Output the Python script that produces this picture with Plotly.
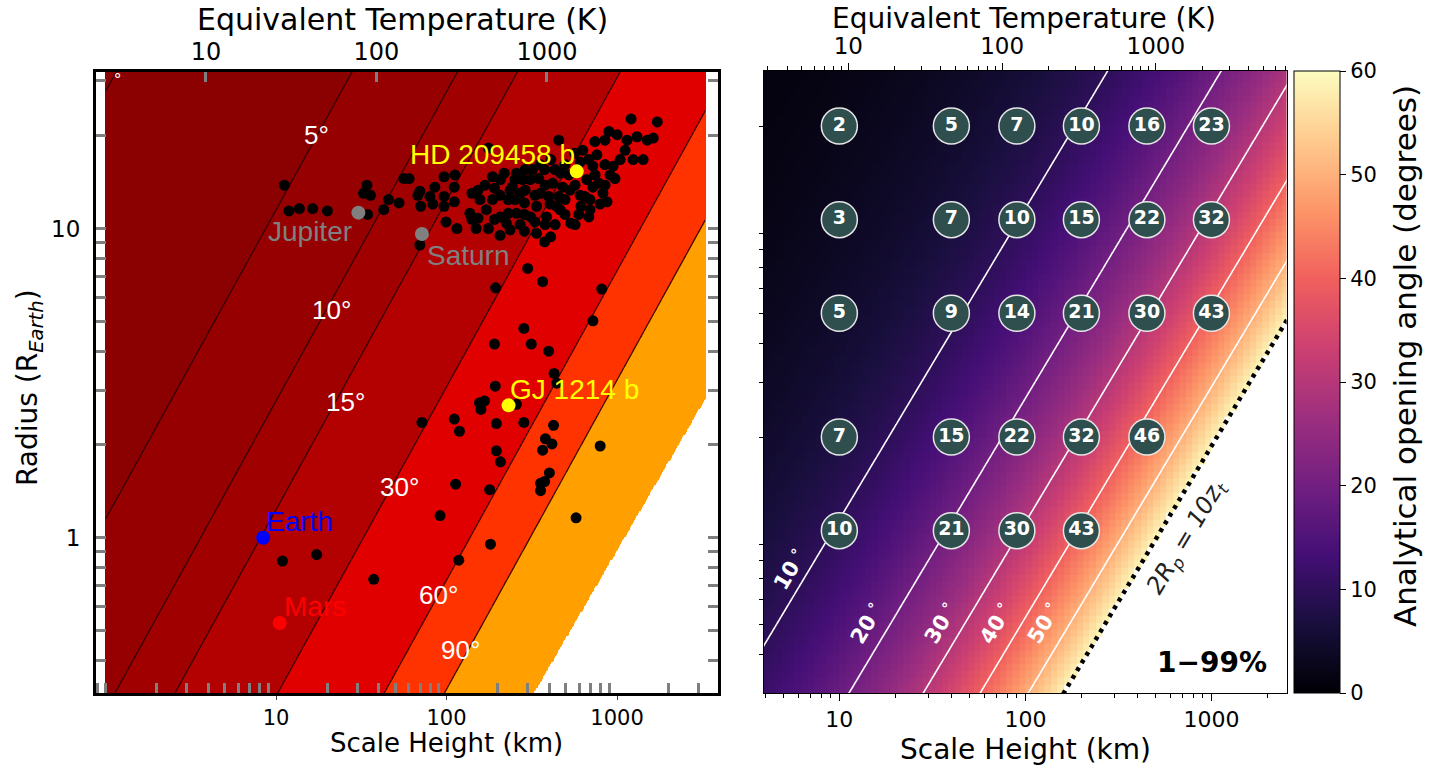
import numpy as np
import plotly.graph_objects as go

FIG_W, FIG_H = 1431, 771
AXF = "DejaVu Sans"
ARF = "Liberation Sans"

# ---------------- LEFT PANEL DATA ----------------
# exoplanets: scale height (km) and radius (R_Earth)
giant_H1 = [11.2, 11.9, 13.7, 16.4, 20.0, 34.1, 32.6, 35.8, 34.4, 42.8, 45.7, 52.6, 56.2, 60.3, 69.7,
            67.9, 70.5, 79.9, 85.3, 96.7, 112, 96.7, 111, 83.0, 96.7, 111, 99.3, 115, 69.7]
giant_R1 = [13.8, 11.4, 11.6, 11.6, 11.4, 13.8, 13.0, 12.8, 11.1, 11.5, 12.4, 12.1, 14.5, 14.5, 13.2,
            12.8, 11.8, 12.7, 13.6, 14.7, 14.9, 12.7, 13.6, 12.0, 11.8, 12.2, 10.5, 10.0, 8.84]
giant_H2 = [141, 153, 137, 153, 149, 176, 171, 186, 186, 176, 191, 207, 218, 230, 230, 224, 207, 191,
            243, 257, 279, 271, 286, 257, 286, 337, 376, 408, 311, 337, 356, 347, 319, 376, 408, 455,
            419, 397, 455, 480, 467, 521, 565]
giant_R2 = [13.0, 13.3, 11.2, 10.8, 10.0, 10.0, 11.5, 12.4, 14.7, 18.2, 13.5, 14.4, 15.1, 12.4, 11.2,
            10.4, 10.9, 10.7, 13.6, 15.1, 14.4, 13.0, 12.1, 11.2, 9.8, 9.65, 9.06, 9.4, 10.9, 11.8,
            13.0, 14.5, 15.5, 15.5, 16.7, 19.3, 14.0, 12.7, 12.7, 13.6, 15.1, 14.9, 17.5]
giant_H3 = [535, 596, 614, 647, 721, 665, 721, 761, 741, 849, 896, 1000, 1145, 1309, 1502, 1630, 1208,
            1721, 1114, 1242, 1422, 849, 947, 972, 873, 783, 826, 683, 630, 442, 286, 141, 386, 683]
giant_R3 = [10.4, 11.1, 11.8, 12.7, 13.6, 14.4, 15.9, 17.3, 19.1, 19.3, 20.6, 20.1, 19.3, 19.8, 19.3,
            19.6, 22.6, 22.1, 17.9, 16.7, 16.7, 16.1, 15.9, 14.5, 12.2, 14.0, 13.0, 16.7, 17.9, 11.8,
            11.1, 10.7, 10.9, 10.9]
giant_H4 = [157, 168, 206, 236, 252, 289, 309, 330, 378, 405, 463, 495, 530, 567, 607, 694, 495, 567,
            433, 378, 330, 270, 236, 206, 252, 289, 353, 433, 495, 607, 743, 850, 910, 1042, 795, 694]
giant_R4 = [12.4, 13.8, 12.8, 13.3, 12.4, 13.3, 14.4, 12.8, 13.8, 12.0, 11.5, 12.4, 13.3, 13.8, 12.8,
            12.4, 11.1, 10.3, 10.3, 10.3, 10.5, 10.3, 9.9, 9.5, 14.4, 15.5, 16.1, 15.5, 16.1, 16.4,
            14.9, 13.8, 14.9, 16.7, 12.0, 11.5]
small_H5 = [299, 366, 194, 813, 722, 284, 191, 314, 397, 427, 443, 193, 156, 167, 159, 257, 71.7, 111,
            119, 196, 284, 424, 380, 415, 366, 796, 196, 207, 401, 376, 356, 356, 113, 179]
small_R5 = [7.43, 6.73, 6.43, 6.37, 5.03, 4.75, 4.23, 4.23, 4.01, 3.40, 3.16, 3.09, 2.73, 2.77, 2.60,
            2.70, 2.36, 2.42, 2.21, 2.34, 2.36, 2.31, 2.09, 2.01, 1.92, 1.98, 1.91, 1.76, 1.62, 1.52,
            1.50, 1.42, 1.49, 1.43]
small_H6 = [91.6, 575, 10.9, 17.3, 181, 118, 37.4]
small_R6 = [1.18, 1.16, 0.841, 0.882, 0.953, 0.846, 0.734]

named_name = ["HD 209458 b", "Jupiter", "Saturn", "GJ 1214 b", "Earth", "Mars"]
named_H = [580, 30.4, 71.7, 231, 8.4, 10.5]
named_R = [15.3, 11.25, 9.6, 2.68, 1.0, 0.53]
named_color = ["#ffff00", "#808080", "#808080", "#ffff00", "#0000ff", "#ff0000"]
named_label_H = [186, 15.9, 134, 560, 13.8, 17.0]
named_label_R = [17.3, 9.8, 8.15, 3.02, 1.13, 0.60]

# opening-angle contours of the left panel: H/R ratio (km per R_Earth) along each contour
left_angle_levels = [1, 5, 10, 15, 30, 60, 90]
left_level_ratio = [0.036, 0.87, 3.61, 8.11, 32.5, 137, 309]
# edge of the filled region (white beyond): H**exponent / R = const
left_limit_exponent = 0.947
left_limit_const = 762
left_fill_H = [1.0, 3300]
left_band_colors = ["#8b0000", "#8b0000", "#960000", "#a10000", "#b30000", "#e00000", "#ff3300", "#ffa000"]
left_label_text = ["5°", "10°", "15°", "30°", "60°", "90°", "°"]
left_label_H = [17.2, 21.1, 25.5, 53.2, 89.1, 120, 1.18]
left_label_R = [20.1, 5.45, 2.75, 1.46, 0.652, 0.433, 30.2]

left_x_ticks = [10, 100, 1000]
left_x_minor = [0.9, 1, 2, 3, 4, 5, 6, 7, 8, 9, 20, 30, 40, 50, 60, 70, 80, 90,
                200, 300, 400, 500, 600, 700, 800, 900, 2000, 3000]
left_y_ticks = [1, 10]
left_y_minor = [0.4, 0.5, 0.6, 0.7, 0.8, 0.9, 2, 3, 4, 5, 6, 7, 8, 9, 20, 30]
left_T_ticks = [10, 100, 1000]

# ---------------- RIGHT PANEL DATA ----------------
right_anchor_ratio = [0.13, 9.2, 37.5, 94, 190, 345, 535]   # H/R along read contours
right_anchor_angle = [1.2, 10, 20, 30, 40, 50, 59]
right_levels = [10, 20, 30, 40, 50]
right_limit_ratio = 535   # 2Rp = 10 z_t line

bubble_H = [10, 40, 90, 200, 450, 1000]
bubble_R = [20, 10, 5, 2, 1]
bubble_angle = [[2, 5, 7, 10, 16, 23],
                [3, 7, 10, 15, 22, 32],
                [5, 9, 14, 21, 30, 43],
                [7, 15, 22, 32, 46, None],
                [10, 21, 30, 43, None, None]]

right_label_text = ["10<sup> ∘</sup>", "20<sup> ∘</sup>", "30<sup> ∘</sup>", "40<sup> ∘</sup>", "50<sup> ∘</sup>"]
right_label_H = [5.37, 13.9, 34.7, 68.7, 124]
right_label_R = [0.758, 0.508, 0.508, 0.508, 0.508]

right_x_ticks = [10, 100, 1000]
right_x_minor = [4, 5, 6, 7, 8, 9, 20, 30, 40, 50, 60, 70, 80, 90, 200, 300, 400, 500, 600, 700, 800, 900, 2000]
right_y_ticks = [0.4, 0.5, 0.6, 0.7, 0.8, 0.9, 2, 3, 4, 5, 6, 7, 8, 9, 20]
right_T_ticks = [10, 100, 1000]
right_T_minor = [3, 4, 5, 6, 7, 8, 9, 20, 30, 40, 50, 60, 70, 80, 90, 200, 300, 400, 500, 600, 700, 800, 900,
                 2000, 3000, 4000, 5000, 6000, 7000]
cbar_ticks = [0, 10, 20, 30, 40, 50, 60]

# ---------------- helpers ----------------
def fx(p):
    return p / FIG_W


def fy(p):
    return 1 - p / FIG_H


L_X0, L_X1, L_Y0, L_Y1 = 96, 718, 72, 693
R_X0, R_X1, R_Y0, R_Y1 = 764, 1286.6, 71, 693

fig = go.Figure()

# ---- left: filled bands ----
lh = np.logspace(np.log10(left_fill_H[0]), np.log10(left_fill_H[1]), 560)
lr = np.logspace(-0.52, 1.52, 560)
LH, LR = np.meshgrid(lh, lr)
lratio = LH / LR
band = np.digitize(lratio, left_level_ratio).astype(float)
band[LH ** left_limit_exponent / LR > left_limit_const] = np.nan
nb = len(left_band_colors)
cs = []
for i, c in enumerate(left_band_colors):
    cs.append([i / nb, c])
    cs.append([(i + 1) / nb, c])
fig.add_trace(go.Heatmap(x=lh, y=lr, z=band, colorscale=cs, zmin=-0.5, zmax=nb - 0.5,
                         showscale=False, hoverinfo="skip", xaxis="x", yaxis="y"))

gh = np.logspace(np.log10(left_fill_H[0]), np.log10(left_fill_H[1]), 120)
gr = np.logspace(-0.52, 1.52, 120)
GH, GR = np.meshgrid(gh, gr)
zlog = np.log10(GH / GR)
for lv in left_level_ratio:
    v = float(np.log10(lv))
    fig.add_trace(go.Contour(x=gh, y=gr, z=zlog, autocontour=False,
                             contours=dict(start=v, end=v, size=1, coloring="none"),
                             line=dict(color="rgba(45,0,0,0.9)", width=1.3),
                             showscale=False, hoverinfo="skip", xaxis="x", yaxis="y"))

exo_H = giant_H1 + giant_H2 + giant_H3 + giant_H4 + small_H5 + small_H6
exo_R = giant_R1 + giant_R2 + giant_R3 + giant_R4 + small_R5 + small_R6
fig.add_trace(go.Scatter(x=exo_H, y=exo_R, mode="markers", marker=dict(color="black", size=11),
                         hoverinfo="skip", xaxis="x", yaxis="y"))
fig.add_trace(go.Scatter(x=named_H, y=named_R, mode="markers", marker=dict(color=named_color, size=14),
                         hoverinfo="skip", xaxis="x", yaxis="y"))
# empty trace so that the top temperature axis of the left panel is drawn
fig.add_trace(go.Scatter(x=left_T_ticks, y=[None] * len(left_T_ticks), mode="markers",
                         hoverinfo="skip", xaxis="x2", yaxis="y"))

# ---- right: heatmap ----
rh = np.logspace(0.57, 3.43, 84)
rr = np.logspace(-0.55, 1.50, 94)
RH, RRg = np.meshgrid(rh, rr)
rratio = RH / RRg
theta = 10 ** np.interp(np.log10(rratio), np.log10(right_anchor_ratio), np.log10(right_anchor_angle))
theta[rratio > right_limit_ratio] = np.nan
fig.add_trace(go.Heatmap(
    x=rh, y=rr, z=theta, colorscale="Magma", zmin=0, zmax=60, hoverinfo="skip",
    xaxis="x3", yaxis="y4",
    colorbar=dict(x=fx(1294), xanchor="left", xpad=0, y=fy(R_Y1), yanchor="bottom", ypad=0,
                  len=(R_Y1 - R_Y0) / FIG_H, lenmode="fraction", thickness=46, thicknessmode="pixels",
                  outlinewidth=1, outlinecolor="black", tickmode="array", tickvals=cbar_ticks,
                  ticks="outside", ticklen=6, tickcolor="black",
                  tickfont=dict(family=AXF, size=21, color="black"))))

ch = np.logspace(0.57, 3.43, 300)
cr = np.logspace(-0.55, 1.50, 300)
CH, CR = np.meshgrid(ch, cr)
ctheta = 10 ** np.interp(np.log10(CH / CR), np.log10(right_anchor_ratio), np.log10(right_anchor_angle))
fig.add_trace(go.Contour(x=ch, y=cr, z=ctheta, autocontour=False,
                         contours=dict(start=right_levels[0], end=right_levels[-1], size=10, coloring="none"),
                         line=dict(color="white", width=1.6), showscale=False, hoverinfo="skip",
                         xaxis="x3", yaxis="y4"))

# dotted line 2Rp = 10 z_t
dl_R = np.logspace(-0.6, 1.6, 60)
fig.add_trace(go.Scatter(x=dl_R * right_limit_ratio, y=dl_R, mode="lines",
                         line=dict(color="black", width=4.5, dash="4px,5px"),
                         hoverinfo="skip", xaxis="x3", yaxis="y4"))

# bubbles
bx, by, bt = [], [], []
for i, rv in enumerate(bubble_R):
    for j, hv in enumerate(bubble_H):
        a = bubble_angle[i][j]
        if a is not None:
            bx.append(hv)
            by.append(rv)
            bt.append(str(a))
fig.add_trace(go.Scatter(x=bx, y=by, mode="markers+text", text=bt, textposition="middle center",
                         marker=dict(size=36, color="#2f4f4f", line=dict(color="#e6e6e6", width=1.5)),
                         textfont=dict(family=AXF, size=19, color="white", weight="bold"),
                         hoverinfo="skip", xaxis="x3", yaxis="y4"))
# empty trace so that the top temperature axis of the right panel is drawn
fig.add_trace(go.Scatter(x=right_T_ticks, y=[None] * len(right_T_ticks), mode="markers",
                         hoverinfo="skip", xaxis="x4", yaxis="y4"))

# ---------------- annotations ----------------
ann = []
def add_text(text, x, y, size, color="black", family=AXF, xref="paper", yref="paper", angle=0):
    ann.append(dict(text=text, x=x, y=y, xref=xref, yref=yref, showarrow=False,
                    font=dict(family=family, size=size, color=color), textangle=angle,
                    xanchor="center", yanchor="middle"))

add_text("Equivalent Temperature (K)", fx(402), fy(19), 30)
add_text("Equivalent Temperature (K)", fx(1024), fy(18), 28)
add_text("Scale Height (km)", fx(446), fy(743), 26)
add_text("Scale Height (km)", fx(1025), fy(749), 28)
add_text("Radius (R<sub><i>Earth</i></sub>)", fx(29), fy(388), 28, angle=-90)
add_text("Analytical opening angle (degrees)", fx(1405), fy(356), 31, angle=-90)

for t, h, r in zip(left_label_text, left_label_H, left_label_R):
    add_text(t, float(np.log10(h)), float(np.log10(r)), 26 if t != "°" else 18, color="white", family=ARF,
             xref="x", yref="y")
for t, h, r, c in zip(named_name, named_label_H, named_label_R, named_color):
    add_text(t, float(np.log10(h)), float(np.log10(r)), 28, color=c, family=ARF, xref="x", yref="y")

for t, h, r in zip(right_label_text, right_label_H, right_label_R):
    ann.append(dict(text="<b>" + t + "</b>", x=float(np.log10(h)), y=float(np.log10(r)), xref="x3", yref="y4",
                    showarrow=False, textangle=-59, font=dict(family=AXF, size=21, color="white"),
                    xanchor="center", yanchor="middle"))
ann.append(dict(text="<i>2R<sub>p</sub> = 10z<sub>t</sub></i>", x=float(np.log10(740)), y=float(np.log10(0.95)),
                xref="x3", yref="y4", showarrow=False, textangle=-59,
                font=dict(family=AXF, size=24, color="#222222"), xanchor="center", yanchor="middle"))
ann.append(dict(text="<b>1−99%</b>", x=float(np.log10(1007)), y=float(np.log10(0.378)), xref="x3", yref="y4",
                showarrow=False, font=dict(family=AXF, size=28, color="black"),
                xanchor="center", yanchor="middle"))

grey = "#7f7f7f"
fig.update_layout(
    width=FIG_W, height=FIG_H, autosize=False,
    margin=dict(l=0, r=0, t=0, b=0), paper_bgcolor="white", plot_bgcolor="white",
    showlegend=False, annotations=ann,
    xaxis=dict(domain=[fx(L_X0), fx(L_X1)], anchor="y", type="log", range=[-0.056, 3.592],
               showline=True, linewidth=3, linecolor="black", mirror=True, showgrid=False, zeroline=False,
               tickmode="array", tickvals=left_x_ticks, ticktext=[str(v) for v in left_x_ticks],
               ticks="outside", ticklen=4, tickwidth=1, tickcolor="#444444",
               tickfont=dict(family=AXF, size=21, color="black"),
               minor=dict(tickmode="array", tickvals=left_x_minor, ticks="inside", ticklen=10, tickwidth=3,
                          tickcolor=grey, showgrid=False)),
    yaxis=dict(domain=[fy(L_Y1), fy(L_Y0)], anchor="x", type="log", range=[-0.502, 1.506],
               showline=True, linewidth=3, linecolor="black", mirror="ticks", showgrid=False, zeroline=False,
               tickmode="array", tickvals=left_y_ticks, ticktext=[str(v) for v in left_y_ticks],
               ticks="inside", ticklen=10, tickwidth=3, tickcolor=grey, ticklabelstandoff=8,
               tickfont=dict(family=AXF, size=23, color="black"),
               minor=dict(tickmode="array", tickvals=left_y_minor, ticks="inside", ticklen=10, tickwidth=3,
                          tickcolor=grey, showgrid=False)),
    xaxis2=dict(overlaying="x", anchor="y", side="top", type="log", range=[0.355, 4.003],
                showline=False, showgrid=False, zeroline=False,
                tickmode="array", tickvals=left_T_ticks, ticktext=[str(v) for v in left_T_ticks],
                ticks="inside", ticklen=10, tickwidth=3, tickcolor=grey, ticklabelstandoff=6,
                tickfont=dict(family=AXF, size=24, color="black")),
    xaxis3=dict(domain=[fx(R_X0), fx(R_X1)], anchor="y4", type="log", range=[0.595, 3.404],
                showline=True, linewidth=1, linecolor="black", mirror=True, showgrid=False, zeroline=False,
                tickmode="array", tickvals=right_x_ticks, ticktext=[str(v) for v in right_x_ticks],
                ticks="outside", ticklen=7, tickwidth=1.2, tickcolor="black",
                tickfont=dict(family=AXF, size=22, color="black"),
                minor=dict(tickmode="array", tickvals=right_x_minor, ticks="outside", ticklen=4, tickwidth=1,
                           tickcolor="black", showgrid=False)),
    yaxis4=dict(domain=[fy(R_Y1), fy(R_Y0)], anchor="x3", type="log", range=[-0.522, 1.478],
                showline=True, linewidth=1, linecolor="black", mirror=True, showgrid=False, zeroline=False,
                tickmode="array", tickvals=right_y_ticks, ticks="outside", ticklen=4, tickwidth=1,
                tickcolor="black", showticklabels=False),
    xaxis4=dict(overlaying="x3", anchor="y4", side="top", type="log", range=[0.452, 3.850],
                showline=False, showgrid=False, zeroline=False,
                tickmode="array", tickvals=right_T_ticks, ticktext=[str(v) for v in right_T_ticks],
                ticks="outside", ticklen=7, tickwidth=1.2, tickcolor="black",
                tickfont=dict(family=AXF, size=23, color="black"),
                minor=dict(tickmode="array", tickvals=right_T_minor, ticks="outside", ticklen=4, tickwidth=1,
                           tickcolor="black", showgrid=False)),
)

# remove the default page margin so the figure sits at the window's top-left corner
fig.write_html("out.html", config={"displayModeBar": False},
               post_script="document.body.style.margin='0px';")
